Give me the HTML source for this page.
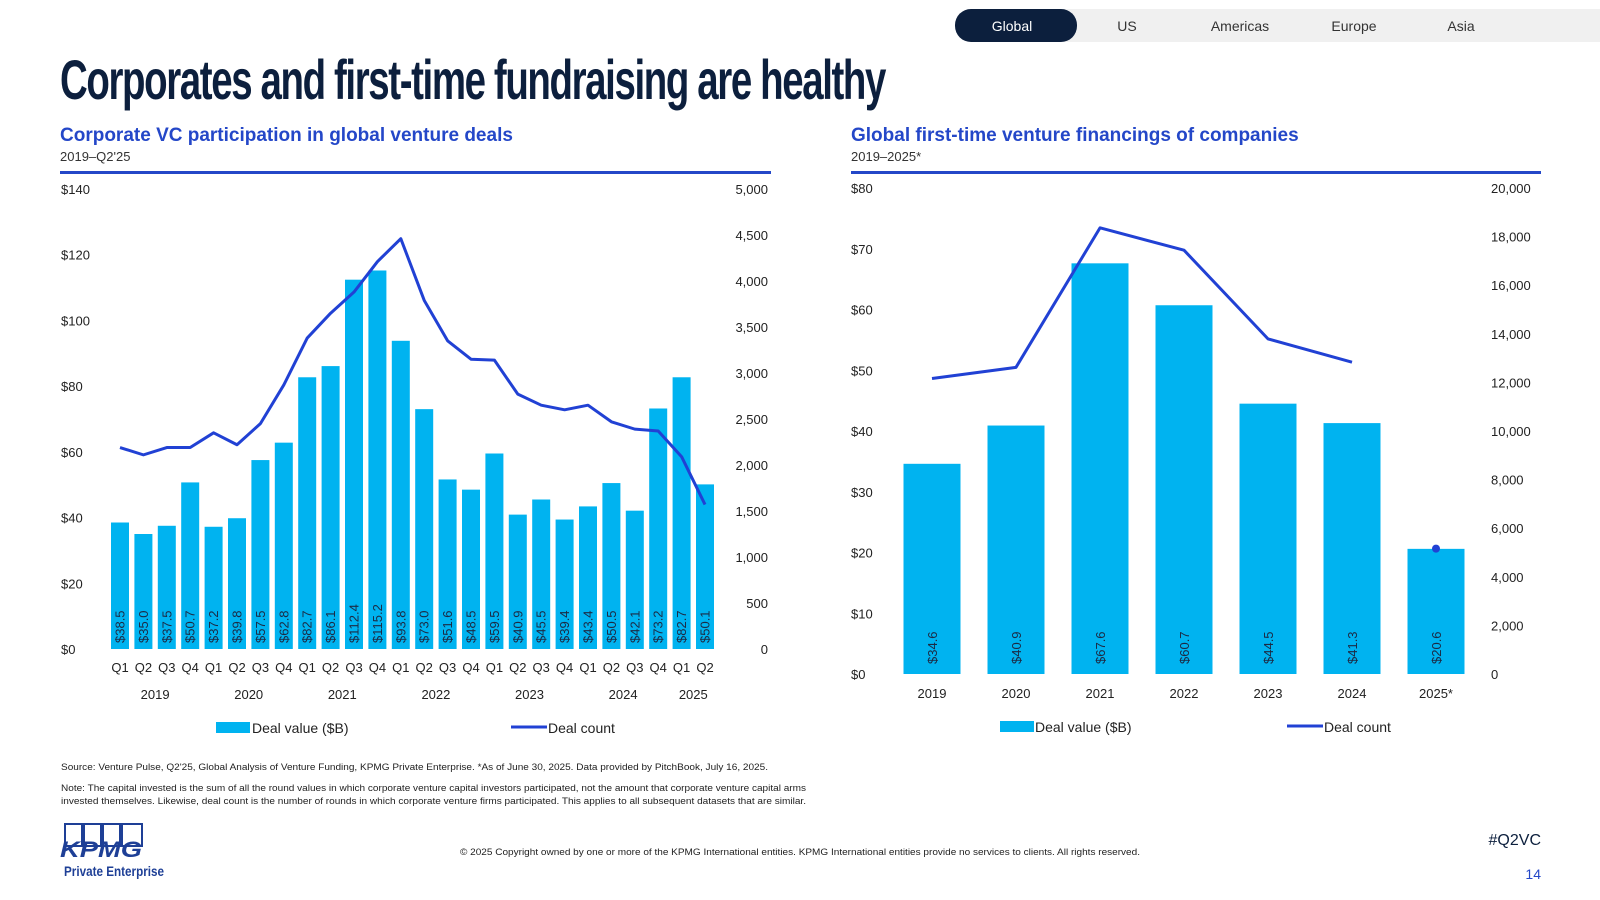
<!DOCTYPE html>
<html><head><meta charset="utf-8"><style>
html,body{margin:0;padding:0;background:#fff;width:1600px;height:900px;overflow:hidden;font-family:"Liberation Sans",sans-serif}
svg{position:absolute;left:0;top:0}
</style></head><body>
<svg id="s" width="1600" height="900" viewBox="0 0 1600 900" xmlns="http://www.w3.org/2000/svg" font-family="Liberation Sans, sans-serif">
<g>
<rect x="1060" y="9" width="540" height="33" fill="#f0f0f0"/>
<rect x="955" y="9" width="122" height="33" rx="16" fill="#0c1f3d"/>
<text x="1012" y="31" font-size="14" fill="#fff" text-anchor="middle">Global</text>
<text x="1127" y="31" font-size="14" fill="#333" text-anchor="middle">US</text>
<text x="1240" y="31" font-size="14" fill="#333" text-anchor="middle">Americas</text>
<text x="1354" y="31" font-size="14" fill="#333" text-anchor="middle">Europe</text>
<text x="1461" y="31" font-size="14" fill="#333" text-anchor="middle">Asia</text>
</g>
<text x="60" y="99" font-family="Liberation Sans Narrow, Liberation Sans, sans-serif" font-weight="bold" font-size="56" fill="#0c1f3d" letter-spacing="-2" textLength="825" lengthAdjust="spacingAndGlyphs">Corporates and first-time fundraising are healthy</text>

<text x="60" y="141" font-size="19" font-weight="bold" fill="#2447c8">Corporate VC participation in global venture deals</text>
<text x="60" y="161" font-size="13" fill="#333">2019–Q2'25</text>
<rect x="60" y="171" width="711" height="3" fill="#2447c8"/>
<text x="851" y="141" font-size="19" font-weight="bold" fill="#2447c8">Global first-time venture financings of companies</text>
<text x="851" y="161" font-size="13" fill="#333">2019–2025*</text>
<rect x="851" y="171" width="690" height="3" fill="#2447c8"/>

<g id="left"></g>
<g id="right"></g>

<text x="61" y="770" font-size="9" fill="#222" textLength="707" lengthAdjust="spacingAndGlyphs">Source: Venture Pulse, Q2'25, Global Analysis of Venture Funding, KPMG Private Enterprise. *As of June 30, 2025. Data provided by PitchBook, July 16, 2025.</text>
<text x="61" y="791" font-size="9" fill="#222" textLength="745" lengthAdjust="spacingAndGlyphs">Note: The capital invested is the sum of all the round values in which corporate venture capital investors participated, not the amount that corporate venture capital arms</text>
<text x="61" y="804" font-size="9" fill="#222" textLength="745" lengthAdjust="spacingAndGlyphs">invested themselves. Likewise, deal count is the number of rounds in which corporate venture firms participated. This applies to all subsequent datasets that are similar.</text>
<g>
<rect x="65" y="824" width="17" height="22" fill="none" stroke="#1e3f96" stroke-width="2"/>
<rect x="84" y="824" width="17" height="22" fill="none" stroke="#1e3f96" stroke-width="2"/>
<rect x="103" y="824" width="17" height="22" fill="none" stroke="#1e3f96" stroke-width="2"/>
<rect x="122" y="824" width="20" height="22" fill="none" stroke="#1e3f96" stroke-width="2"/>
<text x="60" y="857" font-size="22" font-weight="bold" font-style="italic" fill="#1e3f96" textLength="82" lengthAdjust="spacingAndGlyphs">KPMG</text>
<text x="64" y="876" font-size="14" font-weight="bold" fill="#1e3f96" textLength="100" lengthAdjust="spacingAndGlyphs">Private Enterprise</text>
</g>
<text x="800" y="855" font-size="9" fill="#222" text-anchor="middle" textLength="680" lengthAdjust="spacingAndGlyphs">© 2025 Copyright owned by one or more of the KPMG International entities. KPMG International entities provide no services to clients. All rights reserved.</text>
<text x="1541" y="845" font-size="16" fill="#0c1f3d" text-anchor="end">#Q2VC</text>
<text x="1541" y="879" font-size="14" fill="#2447c8" text-anchor="end">14</text>
</svg>
<script>
const leftCategories=["Q1","Q2","Q3","Q4","Q1","Q2","Q3","Q4","Q1","Q2","Q3","Q4","Q1","Q2","Q3","Q4","Q1","Q2","Q3","Q4","Q1","Q2","Q3","Q4","Q1","Q2"];
const leftYears=["2019","2020","2021","2022","2023","2024","2025"];
const leftValues=[38.5,35.0,37.5,50.7,37.2,39.8,57.5,62.8,82.7,86.1,112.4,115.2,93.8,73.0,51.6,48.5,59.5,40.9,45.5,39.4,43.4,50.5,42.1,73.2,82.7,50.1];
const leftCounts=[2190,2110,2190,2190,2350,2220,2450,2870,3380,3650,3880,4210,4460,3790,3350,3150,3140,2770,2650,2600,2650,2470,2390,2370,2090,1570];
const leftYTicks=[0,20,40,60,80,100,120,140];
const leftY2Ticks=[0,500,1000,1500,2000,2500,3000,3500,4000,4500,5000];
const rightCategories=["2019","2020","2021","2022","2023","2024","2025*"];
const rightValues=[34.6,40.9,67.6,60.7,44.5,41.3,20.6];
const rightCounts=[12160,12620,18360,17440,13790,12830,5160];
const rightYTicks=[0,10,20,30,40,50,60,70,80];
const rightY2Ticks=[0,2000,4000,6000,8000,10000,12000,14000,16000,18000,20000];

const NS="http://www.w3.org/2000/svg";
function mk(p,t,a,txt){const e=document.createElementNS(NS,t);for(const k in a)e.setAttribute(k,a[k]);if(txt!=null)e.textContent=txt;p.appendChild(e);return e;}
const fmt=n=>n.toLocaleString('en-US');
const BAR="#00b3f0",LINE="#2141d4",TXT="#222";

(function(){
const g=document.getElementById('left');
const top=189,bot=649,x0=120,step=23.4,bw=18;
const y=v=>bot-(v/140)*(bot-top);
const y2=v=>bot-(v/5000)*(bot-top);
const x=i=>x0+i*step;
leftYTicks.forEach(t=>{const e=mk(g,'text',{x:61,y:y(t)+5,'font-size':13,fill:TXT},'$'+t);

});
leftY2Ticks.forEach(t=>{const e=mk(g,'text',{x:768,y:y2(t)+5,'font-size':13,fill:TXT,'text-anchor':'end'},fmt(t));

});
leftValues.forEach((v,i)=>{const r=mk(g,'rect',{x:x(i)-bw/2,y:y(v),width:bw,height:bot-y(v),fill:BAR});


const t=mk(g,'text',{x:0,y:0,'font-size':13,fill:'#1c2a44',transform:`translate(${x(i)+4.5},${bot-6}) rotate(-90)`},'$'+v.toFixed(1));

});
const pts=leftCounts.map((c,i)=>x(i)+','+y2(c)).join(' ');
const pl=mk(g,'polyline',{points:pts,fill:'none',stroke:LINE,'stroke-width':3,'stroke-linejoin':'round'});


leftCategories.forEach((c,i)=>{const e=mk(g,'text',{x:x(i),y:672,'font-size':13,fill:TXT,'text-anchor':'middle'},c);

});
leftYears.forEach((yr,k)=>{const a=k*4,b=Math.min(k*4+3,leftCategories.length-1);const e=mk(g,'text',{x:(x(a)+x(b))/2,y:699,'font-size':13,fill:TXT,'text-anchor':'middle'},yr);

});
const l1=mk(g,'rect',{x:216,y:722,width:34,height:11,fill:BAR});


const l2=mk(g,'text',{x:252,y:733,'font-size':14,fill:TXT},'Deal value ($B)');


const l3=mk(g,'line',{x1:511,x2:547,y1:727,y2:727,stroke:LINE,'stroke-width':3});


const l4=mk(g,'text',{x:548,y:733,'font-size':14,fill:TXT},'Deal count');


})();

(function(){
const g=document.getElementById('right');
const top=188,bot=674,x0=932,step=84,bw=57;
const y=v=>bot-(v/80)*(bot-top);
const y2=v=>bot-(v/20000)*(bot-top);
const x=i=>x0+i*step;
rightYTicks.forEach(t=>{const e=mk(g,'text',{x:851,y:y(t)+5,'font-size':13,fill:TXT},'$'+t);

});
rightY2Ticks.forEach(t=>{const e=mk(g,'text',{x:1491,y:y2(t)+5,'font-size':13,fill:TXT},fmt(t));

});
rightValues.forEach((v,i)=>{const r=mk(g,'rect',{x:x(i)-bw/2,y:y(v),width:bw,height:bot-y(v),fill:BAR});


const t=mk(g,'text',{x:0,y:0,'font-size':13,fill:'#1c2a44',transform:`translate(${x(i)+5},${bot-10}) rotate(-90)`},'$'+v.toFixed(1));

});
const n=rightCounts.length-1;
const pts=rightCounts.slice(0,n).map((c,i)=>x(i)+','+y2(c)).join(' ');
const pl=mk(g,'polyline',{points:pts,fill:'none',stroke:LINE,'stroke-width':3,'stroke-linejoin':'round'});


const d=mk(g,'circle',{cx:x(n),cy:y2(rightCounts[n]),r:4,fill:LINE});


rightCategories.forEach((c,i)=>{const e=mk(g,'text',{x:x(i),y:698,'font-size':13,fill:TXT,'text-anchor':'middle'},c);

});
const l1=mk(g,'rect',{x:1000,y:721,width:34,height:11,fill:BAR});


const l2=mk(g,'text',{x:1035,y:732,'font-size':14,fill:TXT},'Deal value ($B)');


const l3=mk(g,'line',{x1:1287,x2:1323,y1:726,y2:726,stroke:LINE,'stroke-width':3});


const l4=mk(g,'text',{x:1324,y:732,'font-size':14,fill:TXT},'Deal count');


})();
</script>
</body></html>
